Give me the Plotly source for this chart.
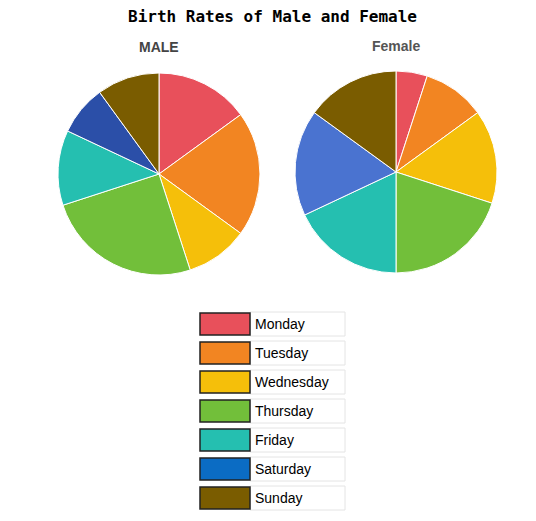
import plotly.graph_objects as go

days = ['Monday', 'Tuesday', 'Wednesday', 'Thursday', 'Friday', 'Saturday', 'Sunday']
male = [15, 20, 10, 25, 12, 8, 10]
female = [5, 10, 15, 20, 18, 17, 15]

base_colors = ['#e8505b', '#f28522', '#f5bf0a', '#72bf3a', '#25bfb0', '#0b6cc4', '#7a5c00']
male_colors = base_colors[:5] + ['#2b4fa8', base_colors[6]]
female_colors = base_colors[:5] + ['#4a73d0', base_colors[6]]

# page body adds an 8px margin, so work in window pixels and shift
OX, OY = 8, 8
W, H = 528, 513


def px(x):
    return (x - OX) / W


def py(y):
    return 1 - (y - OY) / H


fig = go.Figure()
fig.add_trace(go.Pie(labels=days, values=male, sort=False, direction='clockwise', rotation=0,
                     marker=dict(colors=male_colors, line=dict(color='white', width=1)),
                     textinfo='none', hoverinfo='label+percent', showlegend=False,
                     domain=dict(x=[px(58), px(260)], y=[py(275), py(73)])))
fig.add_trace(go.Pie(labels=days, values=female, sort=False, direction='clockwise', rotation=0,
                     marker=dict(colors=female_colors, line=dict(color='white', width=1)),
                     textinfo='none', hoverinfo='label+percent', showlegend=False,
                     domain=dict(x=[px(295), px(497)], y=[py(273), py(71)])))

annotations = [
    dict(text='<b>Birth Rates of Male and Female</b>', x=px(272), y=py(16),
         font=dict(family='DejaVu Sans Mono', size=16, color='black')),
    dict(text='<b>MALE</b>', x=px(159), y=py(47), font=dict(family='Liberation Sans', size=14, color='#444')),
    dict(text='<b>Female</b>', x=px(396), y=py(46), font=dict(family='Liberation Sans', size=14, color='#555')),
]
shapes = []
# custom table-style legend
for i, (d, c) in enumerate(zip(days, base_colors)):
    yc = 324 + 29 * i
    shapes.append(dict(type='rect', xref='paper', yref='paper', x0=px(250), x1=px(345),
                       y0=py(yc + 12), y1=py(yc - 12),
                       line=dict(color='#e4e4e4', width=1), fillcolor='white'))
    shapes.append(dict(type='rect', xref='paper', yref='paper', x0=px(200), x1=px(250),
                       y0=py(yc + 11), y1=py(yc - 11),
                       line=dict(color='#222', width=1.5), fillcolor=c))
    annotations.append(dict(text=d, x=px(253), y=py(yc), xanchor='left',
                            font=dict(family='Liberation Sans', size=14, color='black')))
for a in annotations:
    a.update(xref='paper', yref='paper', showarrow=False)
    a.setdefault('xanchor', 'center')
    a['yanchor'] = 'middle'

fig.update_layout(width=W, height=H, margin=dict(l=0, r=0, t=0, b=0),
                  paper_bgcolor='white', plot_bgcolor='white',
                  annotations=annotations, shapes=shapes)
fig.write_html('out.html')
